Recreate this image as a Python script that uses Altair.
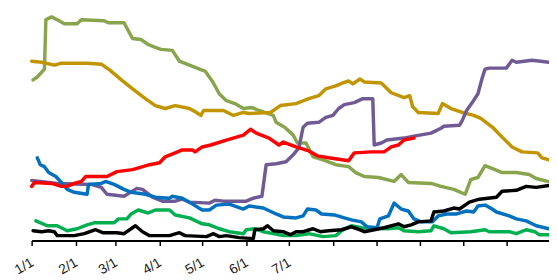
import altair as alt
import pandas as pd

# day offsets from 1 Jan and values (height above the axis) for each series
olive_days = [1,4,9,10,14,18,23,32,35,51,54,65,71,77,82,87,91,99,104,111,120,122,127,132,137,143,149,155,160,166,170,172,178,184,187,193,198,205,214,223,228,234,244,255,260,265,281,288,297,305,309,314,319,326,331,341,350,355,363]
olive_vals = [163,166,174,224,227,224,220,220,224,223,221,221,205,204,199,196,194,193,182,178,173,172,162,149,142,139,134,135,132,129,127,120,115,107,99,99,85,82,77,75,69,65,64,60,67,59,58,55,52,47,62,64,76,72,69,69,67,63,60]

gold_days = [0,7,16,21,39,49,55,64,71,80,87,94,101,111,116,119,121,135,142,149,153,168,175,186,195,202,207,214,219,223,226,231,234,246,253,262,266,268,272,286,289,295,303,311,316,325,331,338,345,356,359,364]
gold_vals = [182,181,178,180,180,179,173,162,154,144,137,134,137,134,130,127,132,132,127,130,129,130,137,139,144,147,154,157,160,162,159,164,161,160,150,145,147,136,130,129,139,134,130,127,124,114,105,95,90,89,84,82]

purple_days = [0,18,42,49,53,65,74,78,85,92,101,106,111,125,129,135,151,156,162,165,172,179,184,188,191,194,202,207,212,216,220,227,233,240,241,246,250,262,269,281,288,290,301,303,306,310,314,317,319,322,334,338,341,352,364]
purple_vals = [61,58,57,54,47,45,53,52,44,40,40,42,39,38,41,40,40,43,45,77,78,80,87,94,115,119,120,125,127,134,138,140,144,144,97,99,102,104,106,109,114,116,117,122,132,140,149,165,174,175,175,183,181,183,181]

red_days = [0,2,14,21,25,30,35,38,53,60,71,83,90,94,101,106,113,115,120,126,137,149,154,158,167,174,177,186,195,201,209,223,227,239,248,253,258,262,269]
red_vals = [55,59,58,55,55,58,60,65,65,70,72,77,79,85,89,92,92,90,95,97,102,107,113,109,104,97,100,95,91,86,84,81,89,90,90,95,97,102,104]

blue_days = [4,6,9,12,17,21,25,30,39,40,49,52,58,65,70,80,87,97,99,106,112,120,125,130,139,149,153,163,172,177,186,191,194,200,204,213,220,225,232,236,243,245,251,255,260,265,269,274,282,286,292,299,306,311,314,319,324,327,336,341,348,355,364]
blue_vals = [84,77,75,69,65,59,52,49,47,57,58,60,57,52,49,47,44,43,45,43,38,31,31,36,37,32,35,33,27,24,23,25,32,31,27,26,23,21,19,14,13,22,25,38,32,30,22,19,19,25,27,27,30,29,35,36,32,29,25,22,20,15,12]

green_days = [3,11,18,25,32,39,44,58,61,67,70,75,82,87,97,101,111,120,125,132,139,149,151,157,163,170,177,186,195,205,214,218,225,232,251,258,262,272,281,283,290,295,309,319,322,336,341,348,354,357,364]
green_vals = [20,15,15,10,12,16,18,18,22,22,27,31,28,31,31,26,23,17,16,12,9,7,11,12,9,7,5,5,7,4,5,10,15,13,12,13,10,9,10,15,12,8,9,11,9,9,7,11,9,6,6]

black_days = [1,7,12,16,18,30,37,45,50,60,65,73,78,83,97,104,108,123,128,132,137,146,156,157,163,166,170,177,182,186,191,198,203,209,218,225,229,234,241,248,258,262,267,272,281,283,290,297,301,308,315,327,331,341,348,355,364]
black_vals = [10,9,10,9,5,5,7,11,8,8,7,15,9,5,5,8,5,4,7,4,5,3,2,11,12,15,10,9,6,9,9,12,9,10,11,14,12,9,11,13,17,14,16,19,20,29,30,33,32,39,42,44,50,51,55,54,56]

series = [
    ("olive", olive_days, olive_vals, "#88A54E"),
    ("gold", gold_days, gold_vals, "#C29500"),
    ("purple", purple_days, purple_vals, "#705A95"),
    ("green", green_days, green_vals, "#00B050"),
    ("blue", blue_days, blue_vals, "#0070C0"),
    ("red", red_days, red_vals, "#FF0000"),
    ("black", black_days, black_vals, "#000000"),
]

start = pd.Timestamp("2011-01-01")
tick_values = [pd.Timestamp(2011, m, 1).isoformat() for m in range(1, 13)]

x_enc = alt.X(
    "date:T",
    scale=alt.Scale(domain=[start.isoformat(), pd.Timestamp("2011-12-31").isoformat()]),
    axis=alt.Axis(
        values=tick_values,
        labelExpr="month(datum.value) <= 6 ? (month(datum.value) + 1) + '/1' : ''",
        title=None,
        grid=False,
        domainColor="#000000",
        domainWidth=2,
        tickColor="#000000",
        tickWidth=1.5,
        tickSize=5,
        labelAngle=330,
        labelAlign="right",
        labelBaseline="top",
        labelPadding=10,
        labelOffset=-3,
        labelFont="Liberation Sans",
        labelFontSize=14,
        labelColor="#222222",
        labelOverlap=False,
    ),
)
y_enc = alt.Y("value:Q", scale=alt.Scale(domain=[0, 234]), axis=None)

layers = []
for name, days, vals, color in series:
    df = pd.DataFrame({
        "date": [start + pd.Timedelta(days=d) for d in days],
        "value": vals,
    })
    layers.append(
        alt.Chart(df).mark_line(color=color, strokeWidth=3.5, strokeJoin="round", strokeCap="round")
        .encode(x=x_enc, y=y_enc)
    )

chart = alt.layer(*layers).properties(
    width=525,
    height=234,
    autosize=alt.AutoSizeParams(type="none"),
    padding={"left": 24, "top": 0, "right": 0, "bottom": 38},
).configure_view(stroke=None)

chart.save("out.html", embed_options={"renderer": "svg", "actions": False})
